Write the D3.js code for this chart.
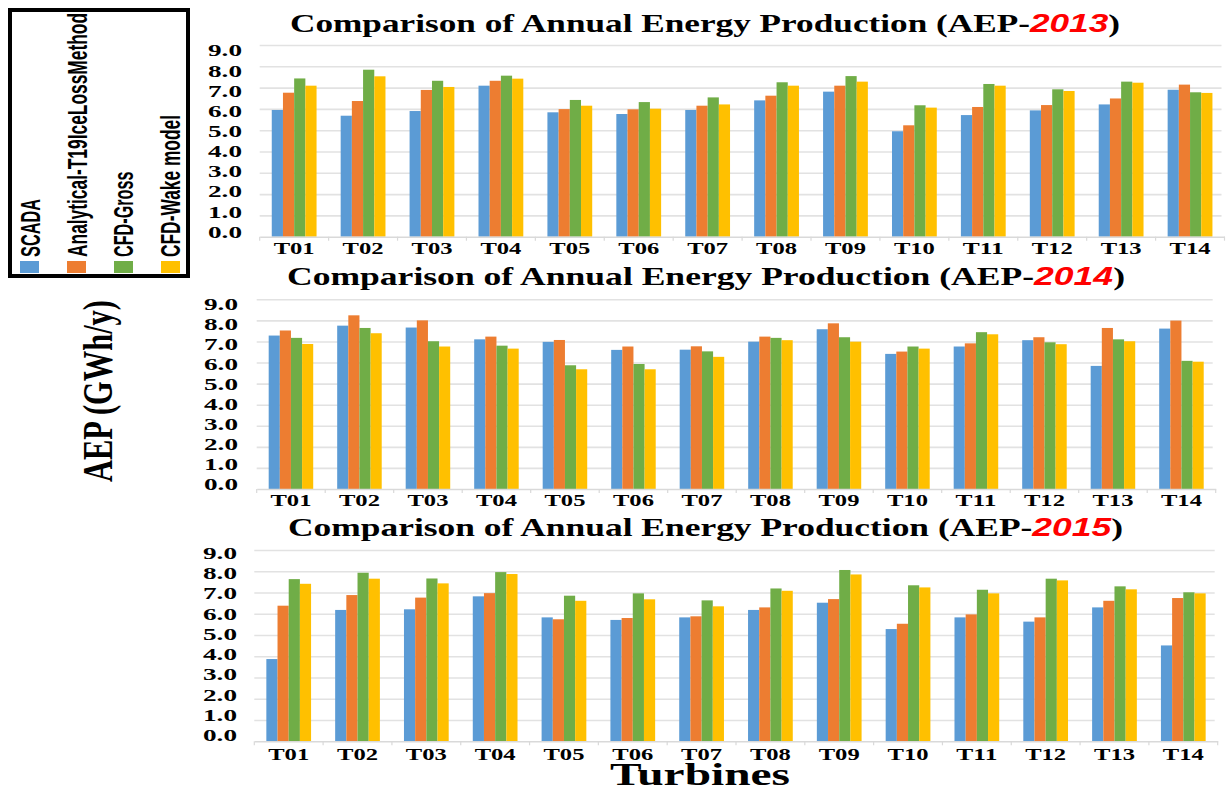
<!DOCTYPE html>
<html>
<head>
<meta charset="utf-8">
<script src="https://cdn.jsdelivr.net/npm/d3@7"></script>
<style>
  html, body { margin: 0; padding: 0; background: #ffffff; }
  svg { display: block; }
</style>
</head>
<body>
<svg id="chart" width="1226" height="790"></svg>
<script>
const turbines = ["T01","T02","T03","T04","T05","T06","T07","T08","T09","T10","T11","T12","T13","T14"];
const seriesNames = ["SCADA","Analytical-T19IceLossMethod","CFD-Gross","CFD-Wake model"];
const seriesColors = ["#5B9BD5","#ED7D31","#70AD47","#FFC000"];
const years = ["2013","2014","2015"];
const yTicks = [0,1,2,3,4,5,6,7,8,9];

// AEP 2013 (GWh/y)
const scada2013      = [5.95,5.68,5.90,7.09,5.84,5.76,5.95,6.40,6.81,4.95,5.71,5.93,6.21,6.90];
const analytical2013 = [6.76,6.37,6.89,7.32,5.99,5.98,6.15,6.62,7.09,5.23,6.09,6.18,6.49,7.14];
const gross2013      = [7.43,7.84,7.32,7.56,6.42,6.32,6.54,7.25,7.54,6.17,7.17,6.92,7.28,6.78];
const wake2013       = [7.09,7.53,7.03,7.42,6.15,6.01,6.21,7.09,7.28,6.06,7.09,6.84,7.23,6.75];
// AEP 2014
const scada2014      = [7.28,7.75,7.66,7.10,6.98,6.60,6.61,6.99,7.58,6.41,6.76,7.06,5.84,7.61];
const analytical2014 = [7.52,8.24,8.00,7.23,7.07,6.76,6.77,7.23,7.86,6.52,6.91,7.20,7.64,7.99];
const gross2014      = [7.17,7.64,7.01,6.80,5.87,5.93,6.53,7.17,7.20,6.76,7.44,6.96,7.10,6.08];
const wake2014       = [6.88,7.39,6.76,6.66,5.68,5.68,6.27,7.06,6.99,6.66,7.34,6.87,7.01,6.04];
// AEP 2015
const scada2015      = [3.87,6.18,6.21,6.82,5.83,5.71,5.83,6.18,6.52,5.28,5.83,5.63,6.30,4.51];
const analytical2015 = [6.38,6.88,6.76,6.97,5.74,5.80,5.88,6.30,6.69,5.53,5.97,5.83,6.61,6.74];
const gross2015      = [7.63,7.93,7.66,7.96,6.85,6.96,6.63,7.19,8.06,7.34,7.13,7.65,7.29,7.01];
const wake2015       = [7.41,7.65,7.43,7.87,6.61,6.68,6.35,7.08,7.85,7.24,6.96,7.57,7.15,6.96];

const yearData = [
  [scada2013, analytical2013, gross2013, wake2013],
  [scada2014, analytical2014, gross2014, wake2014],
  [scada2015, analytical2015, gross2015, wake2015]
];

// layout per panel (pixel geometry only)
const panels = [
  { x0: 259.7, x1: 1224.5, yTop: 45,    yBot: 236.7, lblTop: 50.5,  lblBot: 231.7, lblX: 242, xLblY: 254.5, titleX: 290,   titleW: 830, titleY: 31.5 },
  { x0: 256.7, x1: 1215.7, yTop: 299.3, yBot: 489,   lblTop: 303.7, lblBot: 484,   lblX: 238, xLblY: 505.5, titleX: 287,   titleW: 838, titleY: 285 },
  { x0: 254.3, x1: 1217.7, yTop: 550,   yBot: 741.3, lblTop: 553,   lblBot: 735.3, lblX: 237, xLblY: 760,   titleX: 288,   titleW: 835, titleY: 535.5 }
];

const svg = d3.select("#chart");
const serif = "'Liberation Serif','Times New Roman',serif";

panels.forEach((p, pi) => {
  const g = svg.append("g");
  const x = d3.scaleBand().domain(turbines).range([p.x0, p.x1]).paddingInner(0.35).paddingOuter(0.175);
  const xs = d3.scaleBand().domain(seriesNames).range([0, x.bandwidth()]).padding(0);
  const y = d3.scaleLinear().domain([0, 9]).range([p.yBot, p.yTop]);
  const yLbl = d3.scaleLinear().domain([0, 9]).range([p.lblBot, p.lblTop]);

  // gridlines
  const grid = g.append("g").attr("transform", `translate(${p.x0},0)`)
    .call(d3.axisLeft(y).tickValues(yTicks).tickSize(-(p.x1 - p.x0 - 3)).tickFormat(""));
  grid.select(".domain").remove();
  grid.selectAll(".tick line").attr("stroke", "#e2e2e2").attr("stroke-width", 1.6);
  grid.selectAll(".tick").filter(d => d === 0).remove();

  // y tick labels
  const yl = g.append("g").attr("transform", `translate(${p.lblX},0)`)
    .call(d3.axisLeft(yLbl).tickValues(yTicks).tickSize(0).tickPadding(0).tickFormat(d3.format(".1f")));
  yl.select(".domain").remove();
  yl.selectAll("text")
    .attr("font-family", serif).attr("font-weight", "bold").attr("font-size", 17)
    .attr("fill", "#000").attr("textLength", 34).attr("lengthAdjust", "spacingAndGlyphs");

  // bars
  const groups = g.append("g").selectAll("g").data(turbines).join("g")
    .attr("transform", d => `translate(${x(d)},0)`);
  groups.selectAll("rect")
    .data((t, ti) => seriesNames.map((s, si) => ({ s, si, v: yearData[pi][si][ti] })))
    .join("rect")
    .attr("x", d => xs(d.s))
    .attr("width", xs.bandwidth())
    .attr("y", d => y(d.v))
    .attr("height", d => y(0) - y(d.v))
    .attr("fill", d => seriesColors[d.si]);

  // x axis
  const xa = g.append("g").attr("transform", `translate(0,${p.yBot})`)
    .call(d3.axisBottom(x).tickSize(0).tickPadding(0));
  xa.select(".domain").attr("stroke", "#d9d9d9").attr("stroke-width", 1.5);
  xa.selectAll(".tick text")
    .attr("y", p.xLblY - p.yBot).attr("dy", 0)
    .attr("font-family", serif).attr("font-weight", "bold").attr("font-size", 17)
    .attr("fill", "#000").attr("textLength", 41).attr("lengthAdjust", "spacingAndGlyphs");
  // boundary tick marks
  const bounds = d3.range(turbines.length + 1).map(i => p.x0 + i * x.step());
  g.append("g").selectAll("line").data(bounds).join("line")
    .attr("x1", d => d).attr("x2", d => d)
    .attr("y1", p.yBot).attr("y2", p.yBot + 4)
    .attr("stroke", "#d9d9d9").attr("stroke-width", 1.2);

  // title
  const t = g.append("text")
    .attr("x", p.titleX).attr("y", p.titleY)
    .attr("font-family", serif).attr("font-weight", "bold").attr("font-size", 25)
    .attr("fill", "#000")
    .attr("textLength", p.titleW).attr("lengthAdjust", "spacingAndGlyphs");
  t.append("tspan").text("Comparison of Annual Energy Production (AEP-");
  t.append("tspan").text(years[pi])
    .attr("font-family", "'Liberation Sans',Arial,sans-serif").attr("font-style", "italic")
    .attr("fill", "#ff0000");
  t.append("tspan").text(")");
});

// y axis title
svg.append("text")
  .attr("transform", "translate(112,391) rotate(-90)")
  .attr("text-anchor", "middle")
  .attr("font-family", serif).attr("font-weight", "bold").attr("font-size", 42)
  .attr("fill", "#000")
  .attr("textLength", 182).attr("lengthAdjust", "spacingAndGlyphs")
  .text("AEP (GWh/y)");

// x axis title
svg.append("text")
  .attr("x", 610).attr("y", 785)
  .attr("font-family", serif).attr("font-weight", "bold").attr("font-size", 32)
  .attr("fill", "#000")
  .attr("textLength", 180).attr("lengthAdjust", "spacingAndGlyphs")
  .text("Turbines");

// legend
const legendW = [58, 244, 85.5, 142];
const legendBase = [39.5, 86.5, 133, 180];
const legendSwX = [20, 67, 114, 161];
const lg = svg.append("g");
lg.append("rect").attr("x", 10).attr("y", 10).attr("width", 178).attr("height", 266)
  .attr("fill", "#fff").attr("stroke", "#000").attr("stroke-width", 4);
seriesNames.forEach((s, i) => {
  lg.append("rect").attr("x", legendSwX[i]).attr("y", 261).attr("width", 19).attr("height", 12)
    .attr("fill", seriesColors[i]);
  lg.append("text")
    .attr("transform", `translate(${legendBase[i]},257) rotate(-90)`)
    .attr("font-family", "'Liberation Sans',Arial,sans-serif")
    .attr("font-size", 28).attr("font-weight", 600).attr("fill", "#000")
    .attr("textLength", legendW[i]).attr("lengthAdjust", "spacingAndGlyphs")
    .text(s);
});
</script>
</body>
</html>
